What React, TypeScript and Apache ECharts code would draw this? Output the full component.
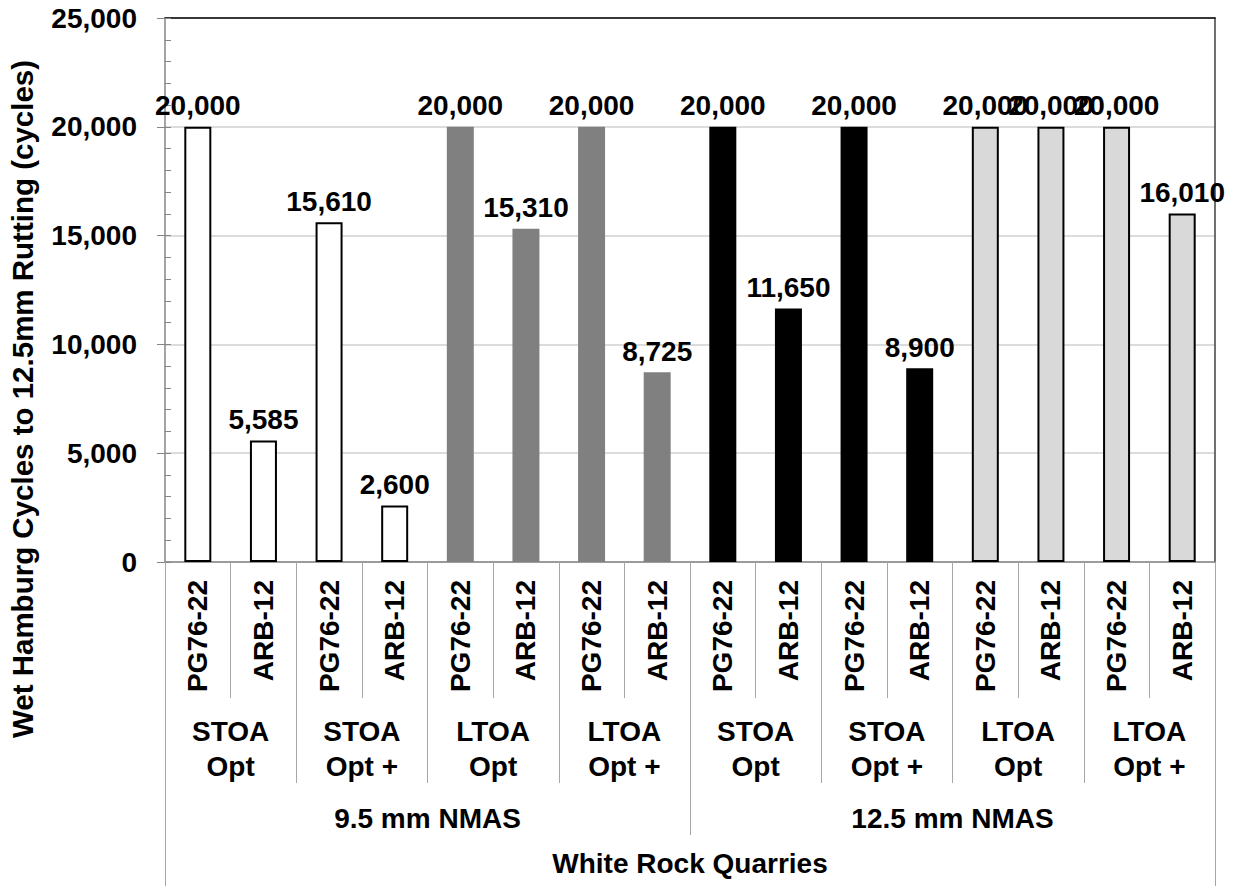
import React, { useEffect, useRef } from "react";
import * as echarts from "echarts";

// ---- Data ----
const binders = [
  "PG76-22", "ARB-12", "PG76-22", "ARB-12", "PG76-22", "ARB-12", "PG76-22", "ARB-12",
  "PG76-22", "ARB-12", "PG76-22", "ARB-12", "PG76-22", "ARB-12", "PG76-22", "ARB-12",
];
const cycles = [
  20000, 5585, 15610, 2600, 20000, 15310, 20000, 8725,
  20000, 11650, 20000, 8900, 20000, 20000, 20000, 16010,
];
const agingLabels = [
  "STOA\nOpt", "STOA\nOpt +", "LTOA\nOpt", "LTOA\nOpt +",
  "STOA\nOpt", "STOA\nOpt +", "LTOA\nOpt", "LTOA\nOpt +",
];
const nmasLabels = ["9.5 mm NMAS", "12.5 mm NMAS"];
const quarryLabels = ["White Rock Quarries"];
const yTitle = "Wet Hamburg Cycles to 12.5mm Rutting (cycles)";
const yMin = 0;
const yMax = 25000;
const yStep = 5000;
const yMinorStep = 1000;

// ---- Styles (per group of four bars) ----
const groupFill = ["#ffffff", "#808080", "#000000", "#d9d9d9"];
const groupBorder = ["#000000", "#808080", "#000000", "#000000"];
const groupBorderWidth = [2, 0, 0, 2];

const FONT = "Arial, 'Liberation Sans', Helvetica, sans-serif";
const fmt = (v: number) => Number(v).toLocaleString("en-US");

export default function App() {
  const ref = useRef<HTMLDivElement>(null);

  useEffect(() => {
    if (!ref.current) return;
    const chart = echarts.init(ref.current, null, { renderer: "svg" });

    const baseText = { fontFamily: FONT, fontWeight: "bold" as const, fontSize: 28, color: "#000" };
    const sepColor = "#a6a6a6";

    const extraX = (data: string[], tickLen: number, margin: number, lineHeight: number, showLabel = true) => ({
      type: "category",
      position: "bottom",
      data,
      boundaryGap: true,
      axisLine: { show: false },
      axisTick: { show: true, interval: 0, length: tickLen, lineStyle: { color: sepColor, width: 1 } },
      axisLabel: {
        show: showLabel,
        interval: 0,
        margin,
        verticalAlign: "middle",
        lineHeight,
        ...baseText,
      },
      splitLine: { show: false },
    });

    chart.setOption({
      animation: false,
      backgroundColor: "#ffffff",
      grid: { left: 165, right: 22, top: 18, bottom: 324, containLabel: false },
      graphic: [
        {
          type: "text",
          x: 22,
          y: 399,
          rotation: Math.PI / 2,
          style: {
            text: yTitle,
            fill: "#000",
            font: `bold 29.5px ${FONT}`,
            textAlign: "center",
            textVerticalAlign: "middle",
            align: "center",
            verticalAlign: "middle",
          },
        },
      ],
      xAxis: [
        {
          type: "category",
          position: "bottom",
          data: binders,
          boundaryGap: true,
          axisLine: { show: true, lineStyle: { color: "#868686", width: 1.5 } },
          axisTick: { show: true, interval: 0, length: 136, lineStyle: { color: sepColor, width: 1 } },
          axisLabel: { interval: 0, rotate: 90, margin: 18, ...baseText },
          splitLine: { show: false },
        },
        extraX(agingLabels, 221, 187, 35),
        extraX(nmasLabels, 273, 256, 30),
        extraX(quarryLabels, 324, 301, 30),
        {
          type: "category",
          position: "top",
          data: quarryLabels,
          axisLine: { show: true, lineStyle: { color: "#000", width: 1.5 } },
          axisTick: { show: false },
          axisLabel: { show: false },
          splitLine: { show: false },
        },
      ],
      yAxis: [
        {
          type: "value",
          min: yMin,
          max: yMax,
          interval: yStep,
          position: "left",
          axisLine: { show: true, lineStyle: { color: "#868686", width: 1.5 } },
          axisTick: { show: true, inside: false, length: 8, lineStyle: { color: "#868686" } },
          axisLabel: { margin: 28, formatter: (v: number) => fmt(v), ...baseText },
          splitLine: { show: true, lineStyle: { color: "#d0d0d0", width: 1.5 } },
        },
        {
          type: "value",
          min: yMin,
          max: yMax,
          interval: yMinorStep,
          position: "left",
          axisLine: { show: false },
          axisTick: { show: true, inside: true, length: 6, lineStyle: { color: "#868686" } },
          axisLabel: { show: false },
          splitLine: { show: false },
        },
        {
          type: "value",
          min: yMin,
          max: yMax,
          position: "right",
          axisLine: { show: true, lineStyle: { color: "#404040", width: 1.5 } },
          axisTick: { show: false },
          axisLabel: { show: false },
          splitLine: { show: false },
        },
      ],
      series: [
        {
          type: "bar",
          xAxisIndex: 0,
          yAxisIndex: 0,
          barWidth: 27,
          data: cycles.map((v, i) => {
            const g = Math.floor(i / 4);
            return {
              value: v,
              itemStyle: {
                color: groupFill[g],
                borderColor: groupBorder[g],
                borderWidth: groupBorderWidth[g],
              },
            };
          }),
          label: {
            show: true,
            position: "top",
            distance: 7,
            formatter: (p: any) => fmt(p.value),
            ...baseText,
          },
        },
      ],
    });

    return () => chart.dispose();
  }, []);

  return (
    <div
      ref={ref}
      style={{ position: "absolute", left: 0, top: 0, width: 1237, height: 886, background: "#fff" }}
    />
  );
}
